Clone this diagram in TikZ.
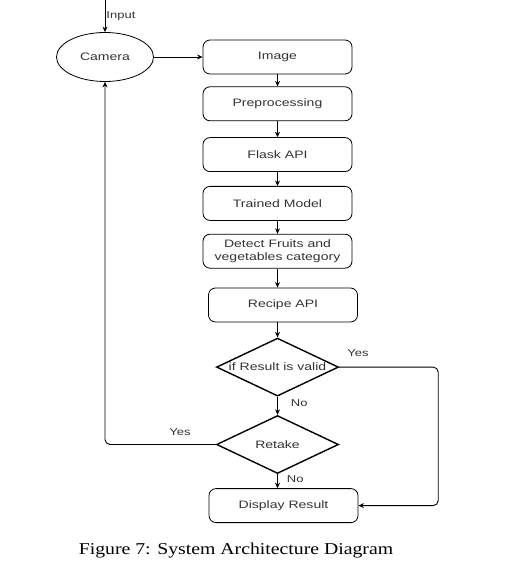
\documentclass[tikz,border=0pt]{standalone}
\usepackage{fontspec}
\newfontfamily\diagfont[FakeStretch=1.3]{Liberation Sans}
\newfontfamily\capfont[FakeStretch=1.19]{Liberation Serif}
\usetikzlibrary{arrows.meta,positioning,shapes.geometric}
\tikzset{
  flowbox/.style={draw, rounded corners=7pt, align=center,
    font=\diagfont\fontsize{10.8}{12.5}\selectfont, text=black!80,
    minimum width=149pt, minimum height=34pt, inner sep=1pt, line width=0.8pt},
  decision/.style={draw, diamond, aspect=2.1, line width=1.4pt,
    minimum width=122pt, minimum height=58pt, inner sep=0pt,
    font=\diagfont\fontsize{10.8}{12.5}\selectfont, text=black!80},
  camnode/.style={draw, ellipse, minimum width=97pt, minimum height=49pt,
    line width=0.8pt, font=\diagfont\fontsize{10.8}{12.5}\selectfont, text=black!80},
  flowarrow/.style={-{Stealth[length=5.5pt,width=5pt]}, line width=0.9pt},
  flowlabel/.style={font=\diagfont\fontsize{10}{12}\selectfont, text=black!80, inner sep=1pt}
}

\begin{document}
\begin{tikzpicture}[x=1pt,y=-1pt]
    \useasboundingbox (0,0) rectangle (506,577);
    \node[camnode] (camera) at (105,57) {Camera};
    \node[flowbox] (image) at (277.5,57) {Image};
    \node[flowbox, below=12pt of image] (prep) {Preprocessing};
    \node[flowbox, below=16pt of prep] (flask) {Flask API};
    \node[flowbox, below=14pt of flask] (model) {Trained Model};
    \node[flowbox, below=13pt of model] (detect) {Detect Fruits and\\vegetables category};
    \node[flowbox, below=19pt of detect, xshift=5.5pt] (recipe) {Recipe API};
    \node[decision, below=15pt of recipe, xshift=-5.5pt] (valid) {if Result is valid};
    \node[decision, below=18pt of valid] (retake) {Retake};
    \node[flowbox, below=14pt of retake, xshift=6pt] (display) {Display Result};
    \node[flowbox, draw=none, font=\capfont\fontsize{16.6}{19}\selectfont, text=black,
      minimum width=0pt, minimum height=0pt] (caption) at (236,551)
      {Figure 7: System Architecture Diagram};
    \coordinate (input) at (105,0);
    \draw[flowarrow] (input) -- node[flowlabel, right] {Input} (camera.north);
    \draw[flowarrow] (camera.east) -- (image.west);
    \draw[flowarrow] (image) -- (prep);
    \draw[flowarrow] (prep) -- (flask);
    \draw[flowarrow] (flask) -- (model);
    \draw[flowarrow] (model) -- (detect);
    \draw[flowarrow] (detect.south) -- (detect.south |- recipe.north);
    \draw[flowarrow] (recipe.south -| valid.north) -- (valid.north);
    \draw[flowarrow] (valid.south) -- node[flowlabel, right, xshift=12pt, yshift=3pt] {No} (retake.north);
    \draw[flowarrow] (retake.south) -- node[flowlabel, right, xshift=8pt, yshift=2pt] {No} (retake.south |- display.north);
    \draw[flowarrow, rounded corners=5pt] (valid.east) -- ++(99,0) |- (display.east);
    \draw[flowarrow, rounded corners=5pt] (retake.west) -| (camera.south);
    \node[flowlabel] (validyes) at (358,353) {Yes};
    \node[flowlabel] (retakeyes) at (180,432) {Yes};
  \end{tikzpicture}
\end{document}
